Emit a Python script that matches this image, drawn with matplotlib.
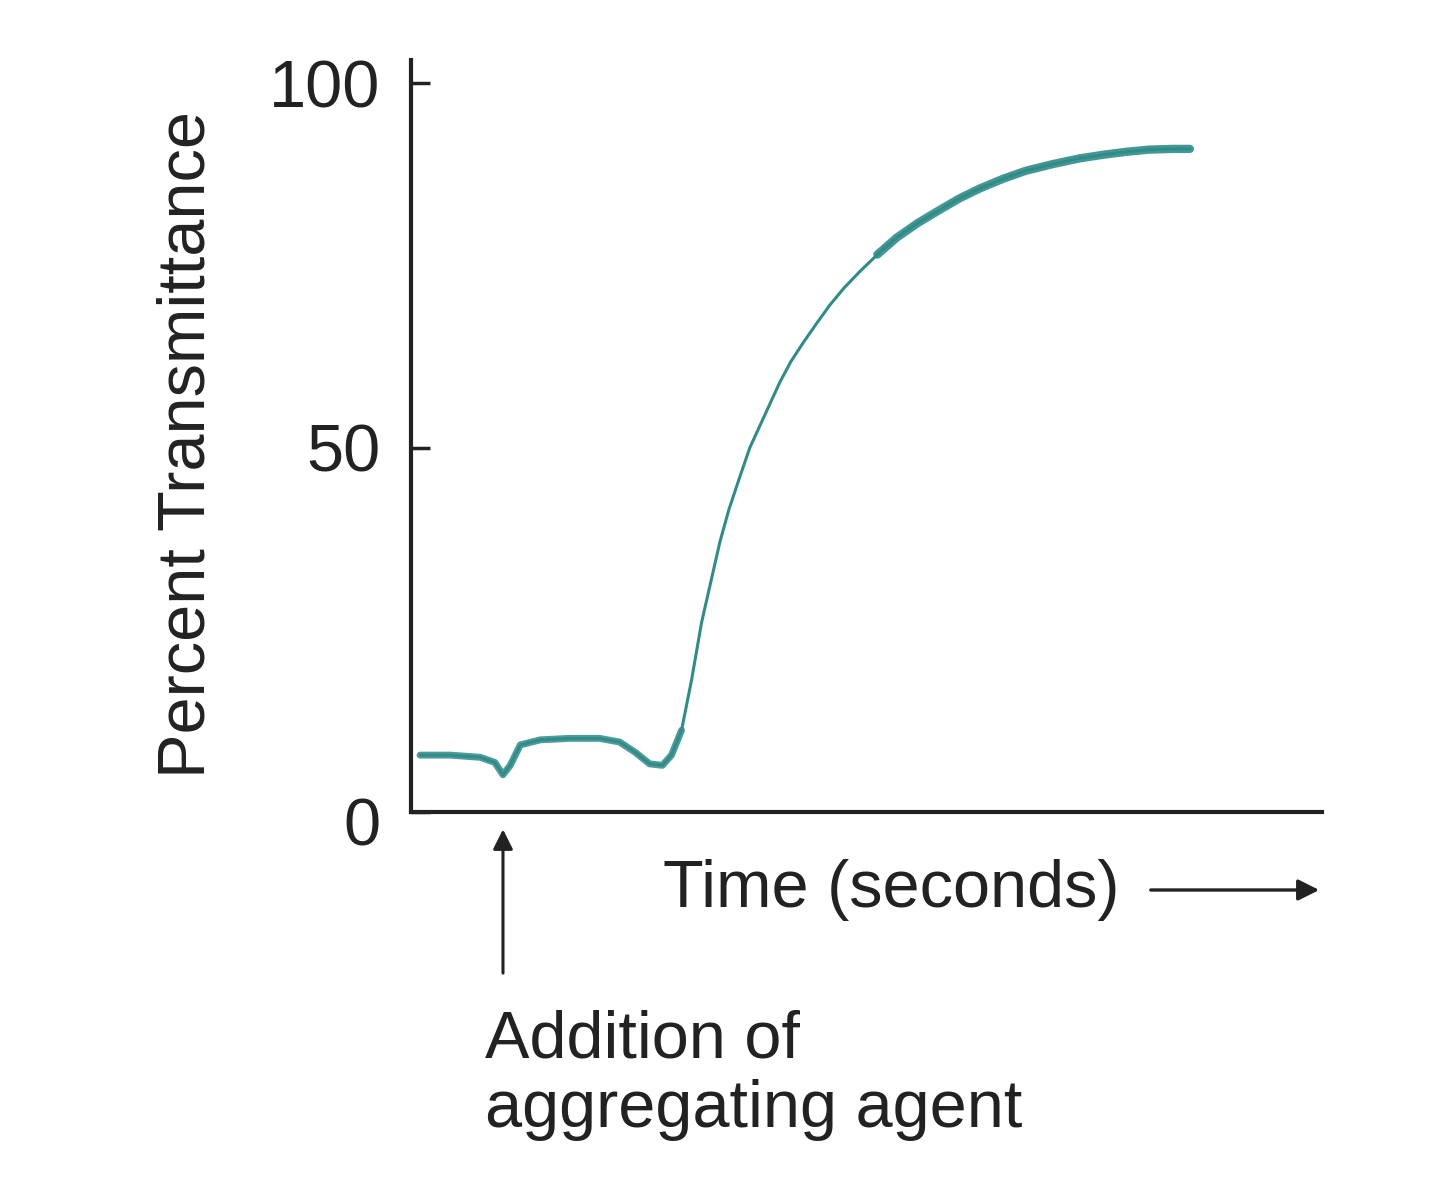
import matplotlib
matplotlib.use("Agg")
import matplotlib.pyplot as plt
import matplotlib.transforms as mtransforms

plt.rcParams["font.family"] = ["Liberation Sans", "DejaVu Sans"]

# values (time in arbitrary units, 0-100 across the axis)
time = [1.0, 4.3, 7.6, 9.2, 10.1, 10.9, 12.0, 14.2, 17.5, 20.7, 22.9, 24.6,
        26.2, 27.6, 28.6, 29.7, 30.8, 31.9, 32.9, 33.9, 34.9, 36.1, 37.2,
        38.3, 39.4, 40.5, 41.7, 43.0, 44.5, 46.0, 47.6, 49.3, 51.2, 53.3,
        55.6, 58.0, 60.2, 62.5, 65.0, 67.5, 70.4, 73.4, 76.0, 78.5, 81.0,
        83.6, 85.5]
transmittance = [7.8, 7.8, 7.5, 6.8, 5.1, 6.4, 9.2, 9.9, 10.1, 10.1, 9.6, 8.2,
                 6.6, 6.4, 7.8, 11.2, 18.1, 26.0, 31.5, 37.0, 41.5, 46.0, 50.0,
                 53.0, 56.0, 59.0, 61.8, 64.3, 67.0, 69.6, 72.0, 74.2, 76.5,
                 78.8, 80.8, 82.6, 84.2, 85.6, 86.9, 88.0, 88.9, 89.7, 90.2,
                 90.6, 90.9, 91.0, 91.0]
y_ticks = [0, 50, 100]
agent_time = 10.1

teal = "#2f8c88"

fig = plt.figure(figsize=(14.4, 11.93), dpi=100)
ax = fig.add_axes([0.2854, 0.3194, 0.6326, 0.6303])

# thin trace through the rise, thicker where the recorder lingered
ax.plot(time, transmittance, color=teal, lw=2.2, solid_capstyle="round",
        solid_joinstyle="round")
ax.plot(time[:16], transmittance[:16], color=teal, lw=5, alpha=0.85,
        solid_capstyle="round", solid_joinstyle="round")
ax.plot(time[32:], transmittance[32:], color=teal, lw=6, alpha=0.9,
        solid_capstyle="round", solid_joinstyle="round")

ax.set_xlim(0, 100)
ax.set_ylim(0, 103.2)
ax.set_xticks([])
ax.set_yticks(y_ticks)
ax.set_yticklabels([str(v) for v in y_ticks], fontsize=48)
ax.tick_params(axis="y", direction="in", length=14, width=2.5, pad=22,
               colors="#222222")
# the zero label sits a little below the x axis
zero_label = ax.get_yticklabels()[0]
zero_label.set_transform(zero_label.get_transform() + mtransforms.ScaledTranslation(
    0, -10 / 100, fig.dpi_scale_trans))

for side in ["top", "right"]:
    ax.spines[side].set_visible(False)
for side in ["left", "bottom"]:
    ax.spines[side].set_linewidth(3)
    ax.spines[side].set_color("#222222")

fig.text(188 / 1440, 1 - 445 / 1193, "Percent Transmittance", rotation=90,
         ha="center", va="center", fontsize=48, color="#222222")

# x axis label with arrow to the right
fig.text(663 / 1440, 1 - 890 / 1193, "Time (seconds)", ha="left",
         va="center", fontsize=48, color="#222222")
fig.add_artist(matplotlib.patches.FancyArrowPatch(
    (1148 / 1440, 1 - 890 / 1193), (1322 / 1440, 1 - 890 / 1193),
    transform=fig.transFigure, arrowstyle="-|>", mutation_scale=32,
    lw=2.4, color="#222222"))

# agent addition marker
ax.annotate("", xy=(agent_time, -2), xytext=(agent_time, -22.5),
            xycoords="data", annotation_clip=False,
            arrowprops=dict(arrowstyle="-|>", mutation_scale=30, lw=2.2,
                            color="#222222"))
fig.text(485 / 1440, 1 - 1075 / 1193, "Addition of\naggregating agent",
         ha="left", va="center", fontsize=48, color="#222222",
         linespacing=1.15)

fig.savefig("out.png", dpi=100, facecolor="white")
